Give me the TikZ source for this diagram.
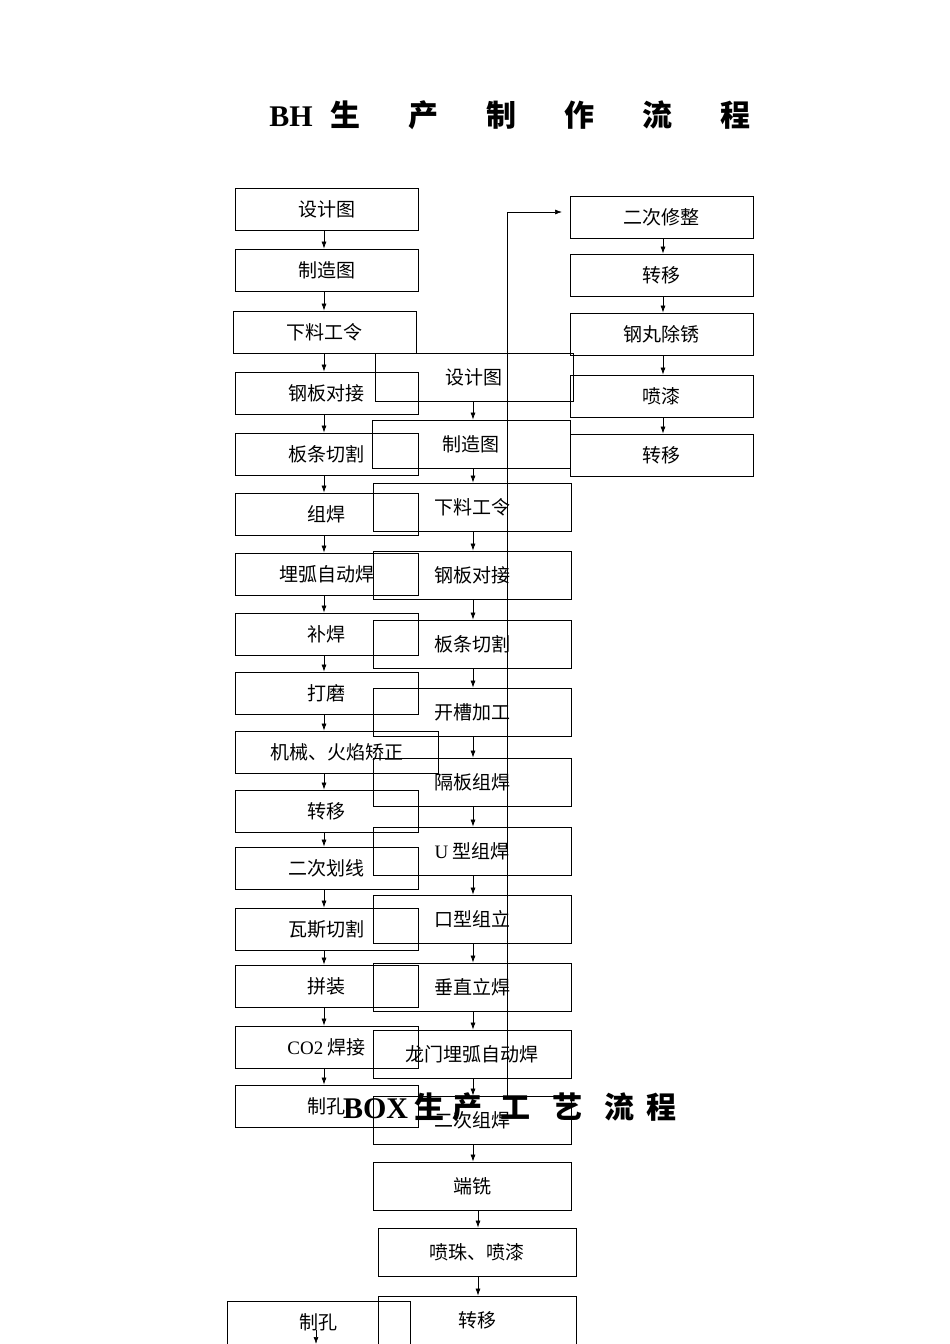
\documentclass[tikz,border=0pt]{standalone}
\usepackage{fontspec}
\setmainfont{Liberation Serif}
\newfontfamily\cjk{Noto Sans CJK SC}
\begin{document}
\begin{tikzpicture}[x=1pt,y=-1pt,
  bx/.style={draw,line width=0.8pt,fill=none,font=\cjk\fontsize{19}{21}\selectfont},
  ar/.style={-{Latex[length=7pt,width=5pt]},line width=0.7pt},
  ttl/.style={font=\cjk\bfseries\fontsize{30}{34}\selectfont}]
\usetikzlibrary{arrows.meta}
\useasboundingbox (0,0) rectangle (950,1344);
\fill[white] (0,0) rectangle (950,1344);
\node[ttl] (t1) at (510,115) {\fontspec{Liberation Serif}\bfseries BH\cjk\hspace{18pt}生\hspace{48pt}产\hspace{48pt}制\hspace{48pt}作\hspace{48pt}流\hspace{48pt}程};
% left column
\foreach \n/\t/\a/\b/\xa/\xb in {
 l1/设计图/188/230/235/418, l2/制造图/249/291/235/418, l3/下料工令/311/353/233/416,
 l4/钢板对接/372/414/235/418, l5/板条切割/433/475/235/418, l6/组焊/493/535/235/418,
 l7/埋弧自动焊/553/595/235/418, l8/补焊/613/655/235/418, l9/打磨/672/714/235/418,
 l10/机械、火焰矫正/731/773/235/438, l11/转移/790/832/235/418, l12/二次划线/847/889/235/418,
 l13/瓦斯切割/908/950/235/418, l14/拼装/965/1007/235/418, l15/{\fontspec{Liberation Serif}CO2\cjk\ 焊接}/1026/1068/235/418,
 l16/制孔/1085/1127/235/418}
 {\node[bx,minimum width={\xb-\xa},minimum height={\b-\a},inner sep=0pt] (\n) at ({(\xa+\xb)/2},{(\a+\b)/2}) {\t};}
\foreach \i [evaluate=\i as \j using int(\i+1)] in {1,...,15}
 {\draw[ar] (324,0 |- l\i.south) -- (324,0 |- l\j.north);}
% right column
\foreach \n/\t/\a/\b in {r1/二次修整/196/238, r2/转移/254/296, r3/钢丸除锈/313/355, r4/喷漆/375/417, r5/转移/434/476}
 {\node[bx,minimum width=183,minimum height=42,inner sep=0pt] (\n) at (661.5,{(\a+\b)/2}) {\t};}
\foreach \i [evaluate=\i as \j using int(\i+1)] in {1,...,4}
 {\draw[ar] (663,0 |- r\i.south) -- (663,0 |- r\j.north);}
% middle column
\foreach \n/\t/\a/\xa/\xb in {
 m1/设计图/353/375/573, m2/制造图/420/372/570, m3/下料工令/483/373/571, m4/钢板对接/551/373/571,
 m5/板条切割/620/373/571, m6/开槽加工/688/373/571, m7/隔板组焊/758/373/571,
 m8/{\fontspec{Liberation Serif}U\cjk\ 型组焊}/827/373/571, m9/口型组立/895/373/571, m10/垂直立焊/963/373/571,
 m11/龙门埋弧自动焊/1030/373/571, m12/二次组焊/1096/373/571, m13/端铣/1162/373/571,
 m14/喷珠、喷漆/1228/378/576, m15/转移/1296/378/576}
 {\node[bx,minimum width={\xb-\xa},minimum height=48,inner sep=0pt] (\n) at ({(\xa+\xb)/2},{\a+24}) {\t};}
\foreach \i [evaluate=\i as \j using int(\i+1)] in {1,...,12}
 {\draw[ar] (473,0 |- m\i.south) -- (473,0 |- m\j.north);}
\draw[ar] (478,0 |- m13.south) -- (478,0 |- m14.north);
\draw[ar] (478,0 |- m14.south) -- (478,0 |- m15.north);
\coordinate (c1) at (507,1096);
\coordinate (c2) at (507,212);
\draw[ar] (c1) -- (c2) -- (562,212);
% bottom-left
\node[bx,minimum width=183,minimum height=43,inner sep=0pt] (b1) at (318.5,1322.5) {制孔};
\coordinate (b2) at (316,1344);
\draw[ar] (316,1330) -- (b2);
\node[ttl,fill=none] (t2) at (510,1107) {\fontspec{Liberation Serif}\bfseries BOX\cjk\ 生\hspace{8pt}产\hspace{18pt}工\hspace{22pt}艺\hspace{22pt}流\hspace{12pt}程};
\end{tikzpicture}
\end{document}
